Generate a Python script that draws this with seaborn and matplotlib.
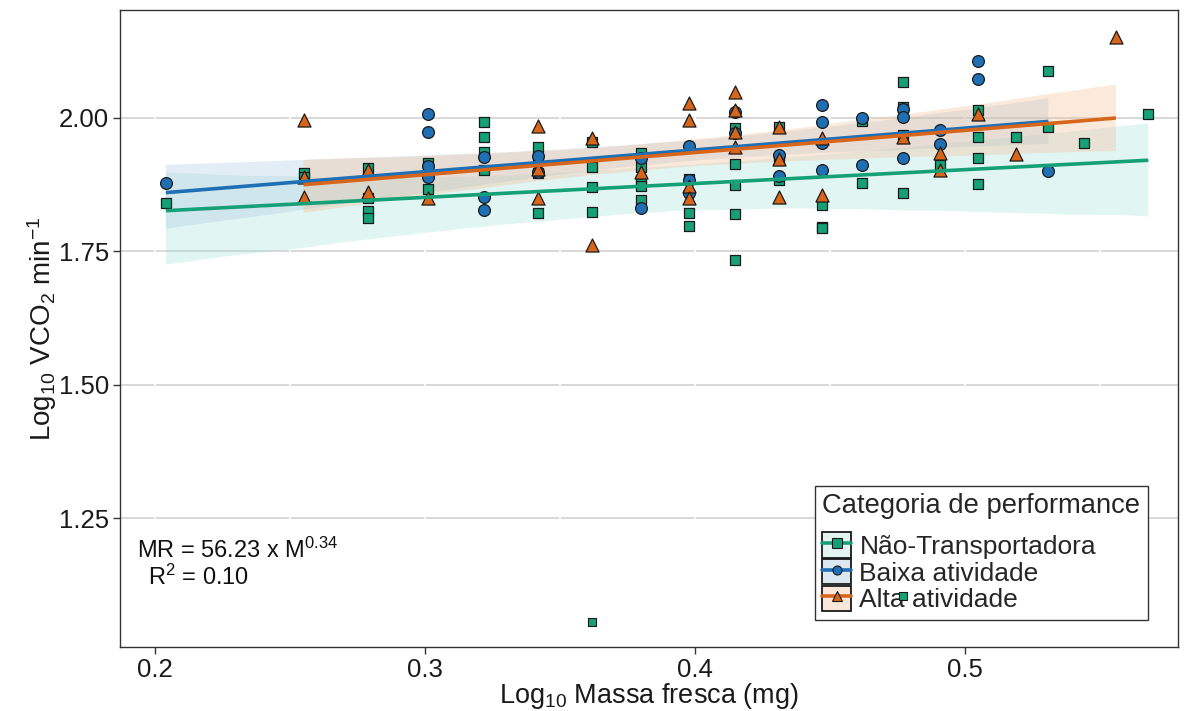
import numpy as np
import pandas as pd
import matplotlib
matplotlib.use("Agg")
import matplotlib.pyplot as plt
import seaborn as sns
from matplotlib.patches import Patch
from matplotlib.lines import Line2D
from matplotlib.legend_handler import HandlerTuple

# Log10 fresh mass (mg) and log10 VCO2 per performance category
nt_x = [0.204,
        0.255, 0.255,
        0.279, 0.279, 0.279, 0.279,
        0.301, 0.301,
        0.322, 0.322, 0.322, 0.322,
        0.342, 0.342, 0.342, 0.342,
        0.362, 0.362, 0.362, 0.362, 0.362,
        0.380, 0.380, 0.380, 0.380, 0.380,
        0.398, 0.398, 0.398,
        0.415, 0.415, 0.415, 0.415, 0.415,
        0.431, 0.431, 0.431,
        0.447, 0.447, 0.447,
        0.462, 0.462,
        0.477, 0.477, 0.477, 0.477, 0.477,
        0.491,
        0.505, 0.505, 0.505, 0.505,
        0.519,
        0.531, 0.531,
        0.544,
        0.568]
nt_y = [1.841,
        1.897, 1.889,
        1.906, 1.850, 1.826, 1.813,
        1.916, 1.867,
        1.993, 1.964, 1.936, 1.903,
        1.946, 1.921, 1.897, 1.822,
        1.955, 1.908, 1.871, 1.824, 1.056,
        1.934, 1.908, 1.884, 1.873, 1.846,
        1.886, 1.822, 1.798,
        1.981, 1.914, 1.874, 1.820, 1.734,
        1.983, 1.921, 1.884,
        1.837, 1.796, 1.794,
        1.995, 1.878,
        2.067, 2.021, 1.968, 1.860, 1.105,
        1.912,
        2.015, 1.964, 1.925, 1.876,
        1.964,
        2.088, 1.983,
        1.953,
        2.007]

ba_x = [0.204,
        0.301, 0.301, 0.301, 0.301,
        0.322, 0.322, 0.322,
        0.342, 0.342,
        0.380, 0.380,
        0.398, 0.398, 0.398,
        0.415, 0.415,
        0.431, 0.431,
        0.447, 0.447, 0.447, 0.447,
        0.462, 0.462,
        0.477, 0.477, 0.477,
        0.491, 0.491,
        0.505, 0.505,
        0.531]
ba_y = [1.878,
        2.007, 1.974, 1.910, 1.890,
        1.927, 1.852, 1.828,
        1.929, 1.899,
        1.925, 1.831,
        1.948, 1.884, 1.860,
        2.011, 1.972,
        1.931, 1.891,
        2.024, 1.993, 1.953, 1.903,
        2.000, 1.912,
        2.017, 2.002, 1.925,
        1.978, 1.951,
        2.107, 2.073,
        1.901]

aa_x = [0.255, 0.255, 0.255,
        0.279, 0.279,
        0.301,
        0.342, 0.342, 0.342,
        0.362, 0.362,
        0.380,
        0.398, 0.398, 0.398, 0.398,
        0.415, 0.415, 0.415, 0.415,
        0.431, 0.431, 0.431,
        0.447, 0.447,
        0.477,
        0.491, 0.491,
        0.505,
        0.519,
        0.556]
aa_y = [1.996, 1.890, 1.852,
        1.903, 1.862,
        1.850,
        1.985, 1.904, 1.850,
        1.962, 1.762,
        1.899,
        2.028, 1.996, 1.873, 1.850,
        2.049, 2.015, 1.974, 1.946,
        1.983, 1.923, 1.852,
        1.962, 1.856,
        1.964,
        1.934, 1.903,
        2.008,
        1.933,
        2.152]

categories = ["Não-Transportadora", "Baixa atividade", "Alta atividade"]
x_ticks = [0.2, 0.3, 0.4, 0.5]
y_ticks = [1.25, 1.50, 1.75, 2.00]

df = pd.concat([
    pd.DataFrame({"massa": nt_x, "vco2": nt_y, "cat": categories[0]}),
    pd.DataFrame({"massa": ba_x, "vco2": ba_y, "cat": categories[1]}),
    pd.DataFrame({"massa": aa_x, "vco2": aa_y, "cat": categories[2]}),
], ignore_index=True)

colors = {categories[0]: "#16A077", categories[1]: "#1F6FB4", categories[2]: "#D8661A"}
band_fill = {categories[0]: "#9EDFD9", categories[1]: "#A4C6DE", categories[2]: "#F5B98C"}
key_fill = {categories[0]: "#E3F4F1", categories[1]: "#DCE8F1", categories[2]: "#FBE7D9"}
markers = {categories[0]: "s", categories[1]: "o", categories[2]: "^"}
msizes = {categories[0]: 58, categories[1]: 72, categories[2]: 88}

sns.set_theme(style="white")
plt.rcParams["font.family"] = ["Liberation Sans", "DejaVu Sans"]
plt.rcParams["mathtext.fontset"] = "custom"
plt.rcParams["mathtext.rm"] = "Liberation Sans"
plt.rcParams["mathtext.it"] = "Liberation Sans:italic"

fig = plt.figure(figsize=(11.94, 7.11), dpi=100)
ax = fig.add_axes([120 / 1194, 1 - 647 / 711, 1058 / 1194, 637 / 711])

# panel grid: grey horizontal lines, white vertical lines
for yv in y_ticks:
    ax.axhline(yv, color="#D6D6D6", lw=1.3, zorder=0.5)
for xv in np.arange(0.20, 0.58, 0.05):
    ax.axvline(xv, color="white", lw=1.2, zorder=0.6)

# confidence ribbons and fitted lines
for i, cat in enumerate(categories):
    sub = df[df["cat"] == cat]
    sns.regplot(data=sub, x="massa", y="vco2", ax=ax, scatter=False, ci=95,
                n_boot=2000, seed=7 + i, truncate=True, color=colors[cat],
                line_kws={"lw": 2.6, "zorder": 4, "solid_capstyle": "butt"})
for coll, cat in zip(ax.collections, categories):
    coll.set_facecolor(band_fill[cat])
    coll.set_alpha(0.3)
    coll.set_zorder(1)
    coll.set_edgecolor("none")

# points
main = df[df["vco2"] > 1.2]
for cat in categories:
    sub = main[main["cat"] == cat]
    sns.scatterplot(data=sub, x="massa", y="vco2", ax=ax, marker=markers[cat],
                    s=msizes[cat], color=colors[cat], edgecolor="#1a1a1a",
                    linewidth=0.9, zorder=3, legend=False)

low = df[df["vco2"] <= 1.2]
sns.scatterplot(data=low, x="massa", y="vco2", ax=ax, marker="s", s=28,
                color=colors[categories[0]], edgecolor="#1a1a1a", linewidth=0.8,
                zorder=12, legend=False)

ax.set_xlim(0.187, 0.579)
ax.set_ylim(1.009, 2.202)
ax.set_xticks(x_ticks)
ax.set_xticklabels([f"{v:.1f}" for v in x_ticks])
ax.set_yticks(y_ticks)
ax.set_yticklabels([f"{v:.2f}" for v in y_ticks])
ax.tick_params(axis="both", labelsize=18.5, colors="#333333", length=5,
               width=1, direction="out", labelcolor="#1a1a1a", pad=3)
ax.tick_params(bottom=True, left=True)
for sp in ax.spines.values():
    sp.set_color("#333333")
    sp.set_linewidth(1.0)
    sp.set_visible(True)

ax.set_xlabel(r"Log$_{10}$ Massa fresca (mg)", fontsize=19.5, color="#1a1a1a")
ax.xaxis.set_label_coords(0.5, -0.053)
ax.set_ylabel(r"Log$_{10}$ VCO$_2$ min$^{-1}$", fontsize=20, color="#1a1a1a")
ax.yaxis.set_label_coords(-0.058, 0.5)

ax.text(0.016, 0.152, r"MR = 56.23 x M$^{0.34}$", transform=ax.transAxes,
        fontsize=17, va="center", ha="left", color="#111111")
ax.text(0.026, 0.110, r"R$^{2}$ = 0.10", transform=ax.transAxes,
        fontsize=17, va="center", ha="left", color="#111111")

handles = []
for cat in categories:
    box = Patch(facecolor=key_fill[cat], edgecolor="#1a1a1a", linewidth=1.3)
    ln = Line2D([], [], color=colors[cat], lw=2.6, marker=markers[cat],
                markersize=6.5, markerfacecolor=colors[cat],
                markeredgecolor="#1a1a1a", markeredgewidth=0.8)
    handles.append((box, ln))

leg = ax.legend(handles, categories, title="Categoria de performance",
                handler_map={tuple: HandlerTuple(ndivide=1, pad=0)},
                loc="lower right", bbox_to_anchor=(0.972, 0.042),
                fontsize=19, title_fontsize=19.7, frameon=True, fancybox=False,
                handlelength=1.1, handleheight=1.12, handletextpad=0.3,
                labelspacing=0.0, borderpad=0.3, borderaxespad=0)
leg.get_frame().set_edgecolor("#333333")
leg.get_frame().set_linewidth(1.0)
leg.get_frame().set_facecolor("white")
leg.get_frame().set_alpha(1)
leg.set_zorder(10)
leg._legend_box.align = "left"
leg._legend_box.sep = 9

fig.savefig("out.png", dpi=100)
